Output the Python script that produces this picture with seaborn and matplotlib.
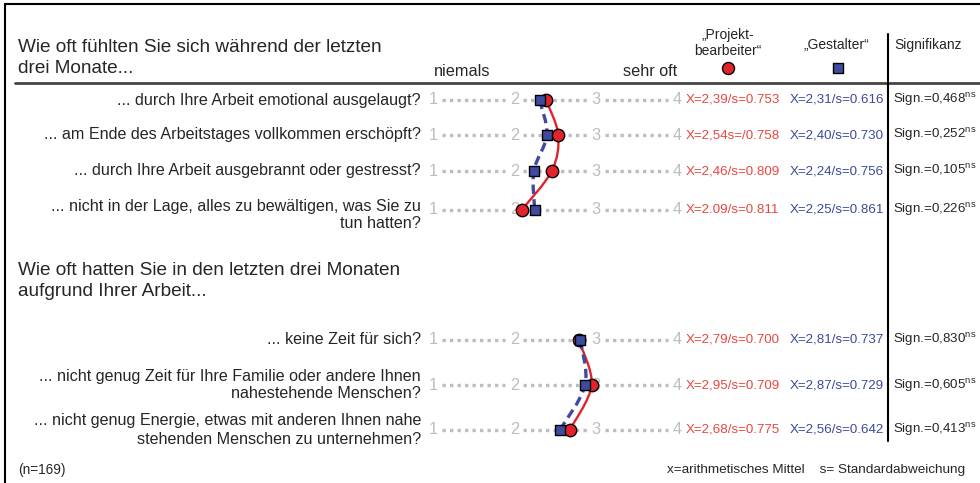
import numpy as np
import pandas as pd
import matplotlib
matplotlib.use('Agg')
import matplotlib.pyplot as plt
from matplotlib.path import Path
from matplotlib.patches import PathPatch
import seaborn as sns

# Daten
fragen = ['... durch Ihre Arbeit emotional ausgelaugt?',
          '... am Ende des Arbeitstages vollkommen erschöpft?',
          '... durch Ihre Arbeit ausgebrannt oder gestresst?',
          '... nicht in der Lage, alles zu bewältigen, was Sie zu\ntun hatten?',
          '... keine Zeit für sich?',
          '... nicht genug Zeit für Ihre Familie oder andere Ihnen\nnahestehende Menschen?',
          '... nicht genug Energie, etwas mit anderen Ihnen nahe\nstehenden Menschen zu unternehmen?']
gruppe = [1, 1, 1, 1, 2, 2, 2]
mittel_pb = [2.39, 2.54, 2.46, 2.09, 2.79, 2.95, 2.68]   # "Projektbearbeiter"
mittel_ge = [2.31, 2.40, 2.24, 2.25, 2.81, 2.87, 2.56]   # "Gestalter"
text_pb = ['X=2,39/s=0.753', 'X=2,54s=/0.758', 'X=2,46/s=0.809', 'X=2.09/s=0.811',
           'X=2,79/s=0.700', 'X=2,95/s=0.709', 'X=2,68/s=0.775']
text_ge = ['X=2,31/s=0.616', 'X=2,40/s=0.730', 'X=2,24/s=0.756', 'X=2,25/s=0.861',
           'X=2,81/s=0.737', 'X=2,87/s=0.729', 'X=2,56/s=0.642']
signifikanz = ['0,468', '0,252', '0,105', '0,226', '0,830', '0,605', '0,413']
skala = [1, 2, 3, 4]

# Layout (Pixel)
zeilen_y = [100, 135, 171, 210, 340, 385, 430]
label_dy = [0, 0, 0, 5, 0, 0, 0]

ROT = '#E3232B'
ROT_TXT = '#E8463F'
BLAU = '#3F4BA0'
BLAU_TXT = '#3A4A9F'
GRAU = '#BDBDBD'

sns.set_theme(style='white')
plt.rcParams['font.family'] = ['Liberation Sans', 'DejaVu Sans']
plt.rcParams['mathtext.fontset'] = 'custom'
plt.rcParams['mathtext.rm'] = 'Liberation Sans'

W, H = 980, 483
fig = plt.figure(figsize=(W / 100, H / 100), dpi=100)
fig.patch.set_facecolor('white')

# Seite in Pixelkoordinaten
page = fig.add_axes([0, 0, 1, 1])
page.set_xlim(0, W)
page.set_ylim(H, 0)
page.axis('off')

# Skala: 1..4 zwischen x=433 und x=677
x1, x4 = 433, 677
sc = fig.add_axes([x1 / W, 0, (x4 - x1) / W, 1])
sc.patch.set_alpha(0)

# Rahmen
page.plot([5, W], [4, 4], color='black', lw=1.5, clip_on=False)
page.plot([5, 5], [4, H], color='black', lw=1.5, clip_on=False)
page.plot([15, W], [83, 83], color='#444444', lw=2)
page.plot([888, 888], [34, 441], color='black', lw=1.5)

# Überschriften
page.text(18, 58, 'Wie oft fühlten Sie sich während der letzten\ndrei Monate...',
          fontsize=13.7, va='center', ha='left', linespacing=1.38)
page.text(18, 281, 'Wie oft hatten Sie in den letzten drei Monaten\naufgrund Ihrer Arbeit...',
          fontsize=13.7, va='center', ha='left', linespacing=1.35)
page.text(434, 72, 'niemals', fontsize=11.7, va='center', ha='left')
page.text(677, 72, 'sehr oft', fontsize=11.7, va='center', ha='right')
page.text(728, 43, '„Projekt-\nbearbeiter“', fontsize=10, va='center', ha='center', linespacing=1.15)
page.text(836, 45, '„Gestalter“', fontsize=10, va='center', ha='center')
page.text(894, 45, 'Signifikanz', fontsize=10, va='center', ha='left')
page.scatter([728], [68], s=75, color=ROT, edgecolor='black', linewidth=1, zorder=5)
page.scatter([838], [68], s=60, marker='s', color=BLAU, edgecolor='black', linewidth=1, zorder=5)

# Zeilen
for i, frage in enumerate(fragen):
    y = zeilen_y[i]
    page.text(421, y + label_dy[i], frage, fontsize=11.6, ha='right', va='center',
              multialignment='right', linespacing=1.25)
    for k in skala:
        sc.text(k, y, str(k), color=GRAU, fontsize=11.8, ha='center', va='center')
    for a, b in zip(skala[:-1], skala[1:]):
        sc.plot([a + 0.11, b - 0.11], [y, y], color=GRAU, lw=2.4,
                linestyle=(0, (1, 1.25)), dash_capstyle='butt')
    page.text(686, y, text_pb[i], color=ROT_TXT, fontsize=9.6, va='center', ha='left')
    page.text(790, y, text_ge[i], color=BLAU_TXT, fontsize=9.6, va='center', ha='left')
    page.text(893, y, 'Sign.=' + signifikanz[i] + r'$^{\mathrm{ns}}$', fontsize=9.6,
              va='center', ha='left')


def kurve(ax, xs, ys, **kw):
    # glatte Kurve (Catmull-Rom als Bezier) durch die Mittelwerte
    p = np.column_stack([xs, ys]).astype(float)
    p = np.vstack([p[0], p, p[-1]])
    verts = [p[1]]
    codes = [Path.MOVETO]
    for j in range(1, len(p) - 2):
        c1 = p[j] + (p[j + 1] - p[j - 1]) / 6
        c2 = p[j + 1] - (p[j + 2] - p[j]) / 6
        verts += [c1, c2, p[j + 1]]
        codes += [Path.CURVE4] * 3
    ax.add_patch(PathPatch(Path(verts, codes), fill=False, **kw))


df = pd.DataFrame({'y': zeilen_y, 'gruppe': gruppe, 'pb': mittel_pb, 'ge': mittel_ge})
for g, d in df.groupby('gruppe'):
    kurve(sc, d['pb'], d['y'], edgecolor=ROT, lw=1.7, zorder=3)
    kurve(sc, d['ge'], d['y'], edgecolor=BLAU, lw=2.4, linestyle=(0, (2.8, 1.6)), zorder=3)

sns.scatterplot(data=df, x='pb', y='y', ax=sc, s=80, color=ROT, edgecolor='black',
                linewidth=1, zorder=4, legend=False, clip_on=False)
sns.scatterplot(data=df, x='ge', y='y', ax=sc, s=62, marker='s', color=BLAU,
                edgecolor='black', linewidth=1, zorder=5, legend=False, clip_on=False)
sc.set_xlim(1, 4)
sc.set_ylim(H, 0)
sc.axis('off')

# Fußzeile
page.text(18, 470, '(n=169)', fontsize=9.8, va='center', ha='left')
page.text(667, 470, 'x=arithmetisches Mittel    s= Standardabweichung', fontsize=9.7,
          va='center', ha='left')

fig.savefig('out.png', dpi=100, facecolor='white')
